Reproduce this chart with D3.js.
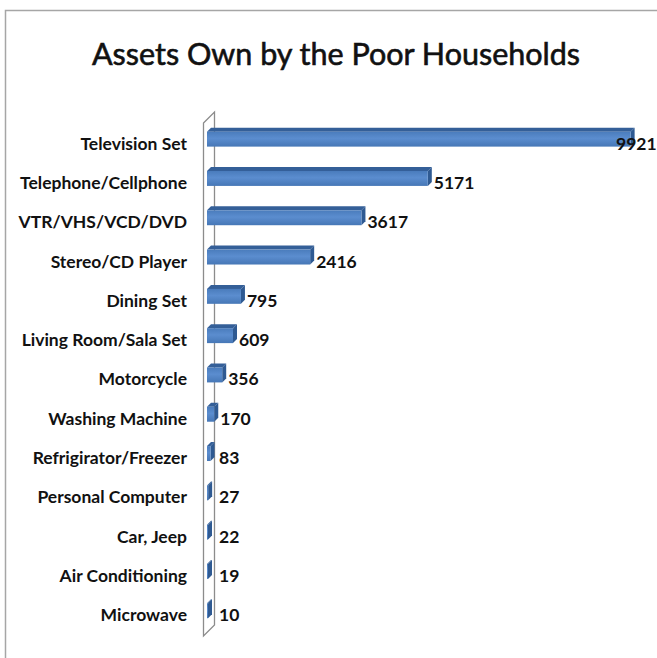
<!DOCTYPE html>
<html>
<head>
<meta charset="utf-8">
<script src="https://cdn.jsdelivr.net/npm/d3@7"></script>
<style>
  html, body { margin: 0; padding: 0; background: #fff; }
  svg { display: block; }
</style>
</head>
<body>
<svg id="chart" width="657" height="658"></svg>
<script>
const title = "Assets Own by the Poor Households";
const categories = [
  "Television Set", "Telephone/Cellphone", "VTR/VHS/VCD/DVD", "Stereo/CD Player",
  "Dining Set", "Living Room/Sala Set", "Motorcycle", "Washing Machine",
  "Refrigirator/Freezer", "Personal Computer", "Car, Jeep", "Air Conditioning", "Microwave"
];
const values = [9921, 5171, 3617, 2416, 795, 609, 356, 170, 83, 27, 22, 19, 10];
const xDomain = [0, 10000];

const W = 657, H = 658;
const svg = d3.select("#chart");

const defs = svg.append("defs");
const g1 = defs.append("linearGradient").attr("id", "front").attr("x1", 0).attr("y1", 0).attr("x2", 0).attr("y2", 1);
g1.append("stop").attr("offset", "0%").attr("stop-color", "#4a7cbc");
g1.append("stop").attr("offset", "45%").attr("stop-color", "#5b8dcf");
g1.append("stop").attr("offset", "100%").attr("stop-color", "#4677b6");

// outer frame
svg.append("rect").attr("x", 5.5).attr("y", 10.5).attr("width", 800).attr("height", 800)
  .attr("fill", "#fff").attr("stroke", "#a6a6a6").attr("stroke-width", 1.5);

// title
svg.append("text").attr("x", 336).attr("y", 65).attr("text-anchor", "middle")
  .attr("font-family", "Lato, 'Noto Sans', sans-serif").attr("font-size", 30.5)
  .attr("fill", "#111").attr("stroke", "#111").attr("stroke-width", 0.6).text(title);

const x = d3.scaleLinear().domain(xDomain).range([207, 634]);
const y = d3.scaleBand().domain(categories).range([119.5, 119.5 + 39.3 * categories.length]).paddingInner(0.62).paddingOuter(0.31);

const depth = 4;
const wallD = 11;
// wall
const wx = 203.5, wTop = 123, wBot = 636;
svg.append("path")
  .attr("d", `M${wx},${wTop} L${wx + wallD},${wTop - wallD} L${wx + wallD},${wBot - wallD} L${wx},${wBot} Z`)
  .attr("fill", "#fff").attr("stroke", "#8c8c8c").attr("stroke-width", 1.3);

const bars = svg.append("g").selectAll("g").data(categories).join("g");
const bh = y.bandwidth();
bars.each(function(c, i) {
  const gsel = d3.select(this);
  const x0 = x(0), x1 = Math.max(x(values[i]), x0 + 1), yt = y(c);
  gsel.append("path")
    .attr("d", `M${x0},${yt} L${x0 + depth},${yt - depth} L${x1 + depth},${yt - depth} L${x1},${yt} Z`)
    .attr("fill", "#345f98");
  gsel.append("path")
    .attr("d", `M${x1},${yt} L${x1 + depth},${yt - depth} L${x1 + depth},${yt + bh - depth} L${x1},${yt + bh} Z`)
    .attr("fill", "#2f5a92");
  gsel.append("rect").attr("x", x0).attr("y", yt).attr("width", x1 - x0).attr("height", bh)
    .attr("fill", "url(#front)");
});

// category labels
svg.append("g").selectAll("text").data(categories).join("text")
  .attr("x", 187).attr("y", c => y(c) + bh / 2 + 4)
  .attr("text-anchor", "end").attr("dominant-baseline", "central")
  .attr("font-family", "Lato, 'Noto Sans', sans-serif").attr("font-weight", "bold").attr("font-size", 17.5)
  .attr("fill", "#111").text(c => c);

// value labels
svg.append("g").selectAll("text").data(categories).join("text")
  .attr("x", (c, i) => Math.min(Math.max(x(values[i]) + depth + 2, x(0) + 12), W - 41))
  .attr("y", c => y(c) + bh / 2 + 4)
  .attr("dominant-baseline", "central")
  .attr("font-family", "Lato, 'Noto Sans', sans-serif").attr("font-weight", "bold").attr("font-size", 17.5)
  .attr("fill", "#111").text((c, i) => values[i]);
</script>
</body>
</html>
